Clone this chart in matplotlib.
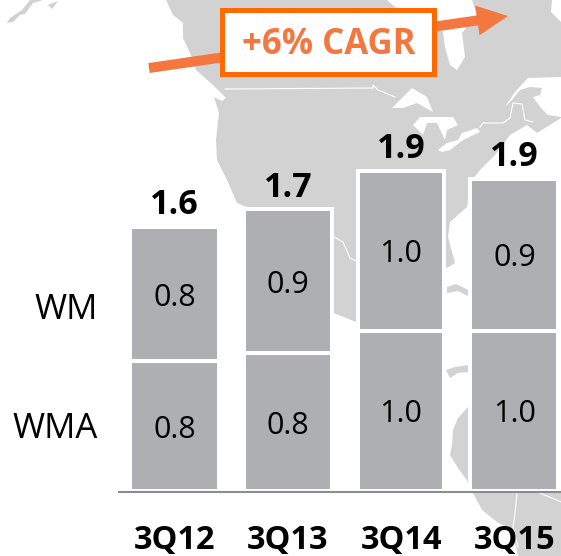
import matplotlib
matplotlib.use("Agg")
import matplotlib.pyplot as plt
from matplotlib.patches import Polygon, Rectangle

W, H = 561, 556
GRAY_MAP = "#d2d2d2"
GRAY_BAR = "#aeafb3"
ORANGE = "#f4773f"
ORANGE_BOX = "#ff6a00"

categories = ["3Q12", "3Q13", "3Q14", "3Q15"]
wma = [0.81, 0.86, 1.00, 1.00]
wm = [0.84, 0.90, 1.00, 0.95]
wma_labels = ["0.8", "0.8", "1.0", "1.0"]
wm_labels = ["0.8", "0.9", "1.0", "0.9"]
total_labels = ["1.6", "1.7", "1.9", "1.9"]
series_names = ["WMA", "WM"]
cagr_label = "+6% CAGR"

# map backdrop, traced by eye in pixels
mainland = [(166, 0), (173, 15), (183, 23), (183, 38), (190, 53), (196, 70), (213, 85),
            (226, 98), (222, 101), (214, 97), (219, 113), (216, 140), (217, 160), (227, 180),
            (237, 203), (247, 207), (300, 270), (334, 313), (356, 322), (400, 330), (400, 270),
            (447, 268), (455, 263), (448, 237), (450, 222), (467, 207), (472, 180),
            (480, 170), (495, 155), (510, 135), (527, 125), (537, 133), (561, 118),
            (561, 22), (551, 12), (552, 0)]
islands = [[(3, 29), (7, 23), (13, 22), (20, 15), (25, 14), (33, 3), (43, 0), (30, 0), (22, 10), (10, 18)],
           [(48, 5), (58, 1), (52, 9)],
           [(447, 287), (456, 284), (468, 290), (468, 296), (458, 291), (447, 293)],
           [(446, 370), (455, 367), (468, 365), (468, 372), (458, 373), (450, 378)],
           [(468, 407), (458, 418), (453, 430), (452, 445), (450, 455), (458, 468), (468, 482)],
           [(473, 493), (482, 510), (497, 522), (512, 530), (518, 556), (561, 556), (561, 493)]]
water = [[(387, 0), (395, 7), (410, 15), (443, 32), (445, 47), (450, 65), (457, 70), (465, 57),
          (462, 33), (477, 15), (472, 0)],
         [(392, 108), (412, 88), (427, 97), (433, 112), (417, 103), (403, 108)],
         [(413, 125), (420, 117), (453, 117), (458, 125), (447, 130), (445, 140), (437, 123),
          (427, 123), (423, 135)],
         [(438, 150), (447, 143), (458, 140), (462, 133), (477, 128), (480, 132), (463, 140),
          (450, 150), (442, 152)],
         [(505, 107), (515, 92), (528, 78), (561, 77), (561, 117), (548, 115), (541, 108),
          (533, 97), (540, 95), (542, 88), (530, 87), (520, 90), (512, 100)]]
borders = [[(225, 89), (373, 88), (373, 85), (378, 90), (395, 97)],
           [(480, 127), (483, 123), (503, 123), (510, 118), (513, 103), (522, 104), (525, 120), (533, 122)],
           [(334, 237), (343, 242), (350, 258), (356, 261)],
           [(517, 493), (515, 513), (513, 527), (518, 547)],
           [(540, 493), (561, 502)]]

plt.rcParams["font.family"] = ["Open Sans", "DejaVu Sans"]
fig = plt.figure(figsize=(W / 100, H / 100), dpi=100, facecolor="white")

# backdrop axes in pixel coordinates
bg = fig.add_axes([0, 0, 1, 1])
bg.set_xlim(0, W); bg.set_ylim(H, 0); bg.axis("off")
bg.add_patch(Polygon(mainland, fc=GRAY_MAP, ec="none"))
for p in islands:
    bg.add_patch(Polygon(p, fc=GRAY_MAP, ec="none"))
for p in water:
    bg.add_patch(Polygon(p, fc="white", ec="none"))
for p in borders:
    bg.plot([q[0] for q in p], [q[1] for q in p], color="white", lw=0.8)

bg.arrow(149, 68, 359, -52, width=10, head_width=30, head_length=31,
         length_includes_head=True, fc=ORANGE, ec="none", zorder=3)
bg.add_patch(Rectangle((222.5, 9.5), 212, 64, fc="white", ec=ORANGE_BOX, lw=3.6, zorder=4))
bg.text(329, 45, cagr_label, color=ORANGE, fontsize=25, fontweight="bold",
        ha="center", va="center", zorder=5)

# chart axes: one category = 113.3 px, one unit = 160 px
step, unit, x0, y0 = 113.3, 160.0, 174.5, 491.0
ax = fig.add_axes([0, 0, 1, 1])
ax.patch.set_alpha(0)
ax.set_xlim(-x0 / step, (W - x0) / step)
ax.set_ylim((y0 - H) / unit, y0 / unit)
ax.axis("off")

x = list(range(len(categories)))
widths = [0.777, 0.777, 0.759, 0.777]
tops = [a + b for a, b in zip(wma, wm)]
ax.bar(x, wma, width=widths, color=GRAY_BAR, edgecolor="white", linewidth=2.9)
ax.bar(x, wm, bottom=wma, width=widths, color=GRAY_BAR, edgecolor="white", linewidth=2.9)
ax.hlines(-1 / unit, (118 - x0) / step, (W - x0) / step, color="#8c8c8c", lw=1.5, zorder=5)

for i in x:
    ax.annotate(wma_labels[i], (i, wma[i] / 2), xytext=(0, -2.5), textcoords="offset points",
                fontsize=22, ha="center", va="center")
    ax.annotate(wm_labels[i], (i, wma[i] + wm[i] / 2), xytext=(0, -2.5), textcoords="offset points",
                fontsize=22, ha="center", va="center")
    ax.annotate(total_labels[i], (i, tops[i]), xytext=(0, 15.5), textcoords="offset points",
                fontsize=24.5, fontweight="bold", ha="center", va="center")
    ax.annotate(categories[i], (i, 0), xytext=(0, -36), textcoords="offset points",
                fontsize=23.5, fontweight="bold", ha="center", va="center")

# series names sit at the mid height of the first bar's segments
ax.annotate(series_names[0], (x[0], wma[0] / 2), xytext=(-55, -2), textcoords="offset points",
            fontsize=25, ha="right", va="center")
ax.annotate(series_names[1], (x[0], wma[0] + wm[0] / 2 - 0.08), xytext=(-55, -2),
            textcoords="offset points", fontsize=25, ha="right", va="center")

fig.savefig("out.png", dpi=100)
